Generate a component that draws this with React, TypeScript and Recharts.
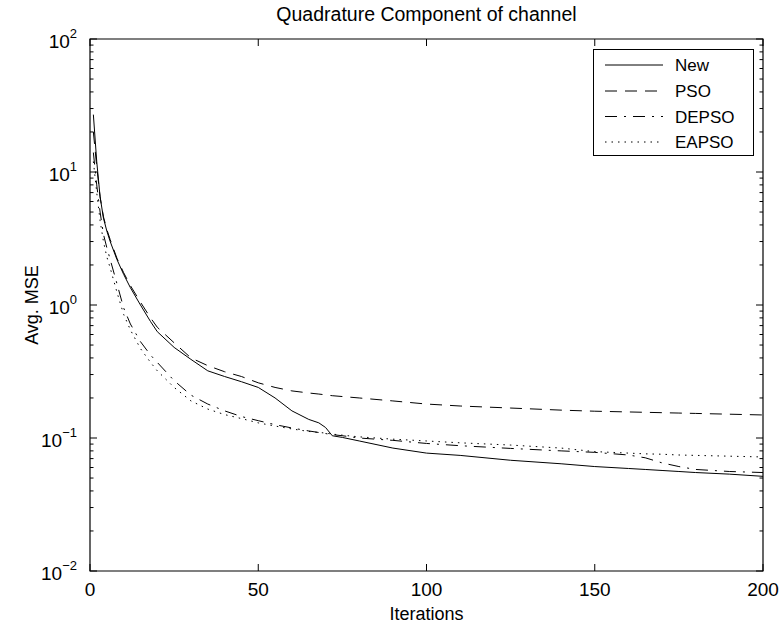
import React from 'react';
import { LineChart, Line, XAxis, YAxis, ReferenceArea } from 'recharts';

const iterations = [1, 2, 3, 4, 5, 6, 8, 10, 12, 15, 18, 20, 25, 30, 35, 40, 45, 50, 55, 60, 65, 68, 70, 72, 75, 80, 90, 100, 110, 125, 140, 150, 160, 165, 170, 175, 180, 190, 200];
const newMse = [27, 12, 6.5, 4.5, 3.6, 3.0, 2.2, 1.7, 1.35, 1.0, 0.75, 0.63, 0.48, 0.39, 0.32, 0.29, 0.265, 0.24, 0.2, 0.16, 0.138, 0.13, 0.12, 0.104, 0.101, 0.095, 0.084, 0.077, 0.074, 0.068, 0.064, 0.061, 0.059, 0.058, 0.057, 0.056, 0.055, 0.0535, 0.0515];
const psoMse = [20, 11, 6.5, 4.6, 3.7, 3.1, 2.25, 1.75, 1.4, 1.05, 0.8, 0.68, 0.52, 0.4, 0.35, 0.315, 0.29, 0.26, 0.24, 0.226, 0.218, 0.214, 0.211, 0.208, 0.205, 0.2, 0.19, 0.18, 0.174, 0.168, 0.162, 0.159, 0.157, 0.156, 0.155, 0.154, 0.153, 0.151, 0.149];
const depsoMse = [14, 8, 5, 3.4, 2.7, 2.2, 1.45, 0.95, 0.72, 0.53, 0.42, 0.37, 0.27, 0.21, 0.18, 0.16, 0.145, 0.135, 0.126, 0.119, 0.113, 0.11, 0.108, 0.106, 0.104, 0.1, 0.096, 0.091, 0.0875, 0.0835, 0.08, 0.078, 0.0745, 0.071, 0.065, 0.061, 0.058, 0.056, 0.055];
const eapsoMse = [12, 7, 4.3, 3.0, 2.3, 1.9, 1.25, 0.85, 0.65, 0.47, 0.37, 0.32, 0.24, 0.19, 0.165, 0.15, 0.14, 0.13, 0.123, 0.117, 0.112, 0.11, 0.109, 0.107, 0.105, 0.102, 0.098, 0.095, 0.092, 0.0885, 0.084, 0.079, 0.077, 0.076, 0.0755, 0.0745, 0.074, 0.073, 0.072];

const seriesNames = ['New', 'PSO', 'DEPSO', 'EAPSO'];
const seriesValues = [newMse, psoMse, depsoMse, eapsoMse];
const seriesDash = ['', '12 8', '12 7 2 7', '1.5 5'];

const xTicks = [0, 50, 100, 150, 200];
const yDecades = [0.01, 0.1, 1, 10];
const yTicks: number[] = [];
yDecades.forEach((d) => {
  for (let k = 1; k < 10; k++) yTicks.push(d * k);
});
yTicks.push(100);

const title = 'Quadrature Component of channel';
const xLabel = 'Iterations';
const yLabel = 'Avg. MSE';

const data = iterations.map((x, i) => {
  const row: any = { x };
  seriesNames.forEach((n, j) => (row[n] = seriesValues[j][i]));
  return row;
});

const W = 783;
const H = 628;
const L = 90;
const R = 763;
const T = 39;
const B = 571;
const FONT = '"Liberation Sans", Arial, Helvetica, sans-serif';

const YTick = (props: any) => {
  const { y, payload } = props;
  const v = payload.value;
  const lg = Math.log10(v);
  const major = Math.abs(lg - Math.round(lg)) < 1e-6;
  const len = major ? 7 : 3.5;
  const exp = Math.round(lg);
  return (
    <g>
      <line x1={L} x2={L + len} y1={y} y2={y} stroke="#000" strokeWidth={1} />
      <line x1={R} x2={R - len} y1={y} y2={y} stroke="#000" strokeWidth={1} />
      {major && (
        <text x={77} y={y + 9} textAnchor="end" fontSize={19} fontFamily={FONT} fill="#000">
          10
          <tspan dy={-10} fontSize={13}>{exp < 0 ? '\u2212' + Math.abs(exp) : String(exp)}</tspan>
        </text>
      )}
    </g>
  );
};

const XTick = (props: any) => {
  const { x, payload } = props;
  return (
    <g>
      <line x1={x} x2={x} y1={B} y2={B - 7} stroke="#000" strokeWidth={1} />
      <line x1={x} x2={x} y1={T} y2={T + 7} stroke="#000" strokeWidth={1} />
      <text x={x} y={596} textAnchor="middle" fontSize={19} fontFamily={FONT} fill="#000">
        {payload.value}
      </text>
    </g>
  );
};

const LegendBox = () => {
  const rows = [16, 42, 67.5, 93];
  return (
    <g transform="translate(593,49)">
      <rect x={0.5} y={0.5} width={160} height={106} fill="#fff" stroke="#000" strokeWidth={1} />
      {seriesNames.map((n, i) => (
        <g key={n}>
          <line x1={12} x2={70} y1={rows[i]} y2={rows[i]} stroke="#000" strokeWidth={1} strokeDasharray={seriesDash[i] || undefined} />
          <text x={82} y={rows[i] + 6} fontSize={17} fontFamily={FONT} fill="#000">{n}</text>
        </g>
      ))}
    </g>
  );
};

export default function App() {
  return (
    <div style={{ position: 'absolute', left: 0, top: 0, width: W, height: H, background: '#fff' }}>
      <LineChart width={W} height={H} data={data} margin={{ top: T, right: W - R, bottom: 27, left: 30 }}>
        <XAxis
          dataKey="x"
          type="number"
          domain={[0, 200]}
          ticks={xTicks}
          tick={<XTick />}
          tickLine={false}
          axisLine={false}
          height={30}
          interval={0}
          allowDataOverflow
        />
        <YAxis
          type="number"
          scale="log"
          domain={[0.01, 100]}
          ticks={yTicks}
          tick={<YTick />}
          tickLine={false}
          axisLine={false}
          width={60}
          interval={0}
          allowDataOverflow
        />
        <ReferenceArea x1={0} x2={200} y1={0.01} y2={100} fill="none" stroke="#000" strokeWidth={1.2} ifOverflow="visible" />
        {seriesNames.map((n, i) => (
          <Line
            key={n}
            dataKey={n}
            name={n}
            type="linear"
            stroke="#000"
            strokeWidth={1}
            strokeDasharray={seriesDash[i] || undefined}
            dot={false}
            activeDot={false}
            isAnimationActive={false}
          />
        ))}
        <LegendBox />
        <text x={(L + R) / 2} y={21} textAnchor="middle" fontSize={19.5} fontFamily={FONT} fill="#000">{title}</text>
        <text x={(L + R) / 2} y={620} textAnchor="middle" fontSize={18} fontFamily={FONT} fill="#000">{xLabel}</text>
        <text x={38} y={305} textAnchor="middle" fontSize={18} fontFamily={FONT} fill="#000" transform={`rotate(-90 38 305)`}>{yLabel}</text>
      </LineChart>
    </div>
  );
}
